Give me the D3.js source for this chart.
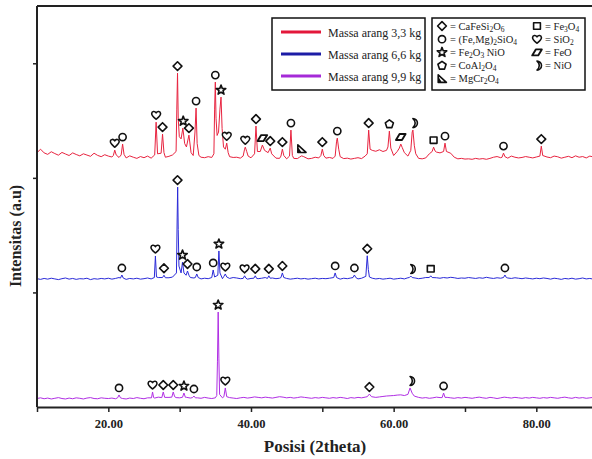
<!DOCTYPE html>
<html>
<head>
<meta charset="utf-8">
<script src="https://cdn.jsdelivr.net/npm/d3@7"></script>
<style>
body { margin: 0; background: #fff; }
svg { display: block; }
</style>
</head>
<body>
<script>
var W = 592, H = 459;

var thetaTicks = [10, 20, 30, 40, 50, 60, 70, 80, 90];
var thetaLabels = [20, 40, 60, 80];
var intensityTicks = [1000, 2000, 3000];
var seriesNames = ["Massa arang 3,3 kg", "Massa arang 6,6 kg", "Massa arang 9,9 kg"];
var seriesOffsets = [2100, 1050, 0];

// baseline counts, one value every 0.5 deg from 10 to 90
var redBase = [120,150,118,105,128,112,98,122,108,95,118,104,92,110,99,88,115,96,85,102,90,
  82,95,78,88,74,92,80,70,86,76,90,72,84,78,95,80,88,100,92,
  250,300,170,130,95,150,80,76,85,78,120,200,150,110,85,78,80,72,80,68,75,
  82,90,88,84,80,76,72,70,78,66,74,70,68,75,72,66,70,80,74,68,
  72,78,70,66,74,68,72,64,70,76,68,90,120,140,132,145,130,140,150,95,
  130,150,120,90,130,100,70,66,74,110,130,125,118,130,120,115,80,66,70,64,
  66,62,70,64,68,62,70,80,86,76,84,72,90,80,74,78,86,80,74,82,
  88,95,82,76,90,84,72,80,88,76,92,80,86,74,90,82,78,88,76,84];
var redPeaks = [[20.7,95],[20.9,142],[21.1,100],[21.8,100],[22.0,195],[22.2,105],
  [26.5,100],[26.7,386],[26.9,110],[27.4,115],[27.6,282],[27.8,120],
  [29.5,130],[29.6,500],[29.7,814],[29.8,420],[29.95,260],
  [30.2,240],[30.45,334],[30.7,200],[30.95,170],[31.3,273],[31.6,120],
  [31.9,95],[32.15,300],[32.3,509],[32.45,200],[32.7,95],
  [34.8,110],[34.9,500],[35.0,736],[35.1,420],[35.25,270],
  [35.45,300],[35.65,500],[35.8,605],[35.95,330],[36.15,170],
  [36.4,150],[36.6,203],[36.8,120],[38.9,90],[39.1,150],[39.2,168],[39.4,130],[39.6,90],
  [40.5,110],[40.7,352],[40.9,130],[41.3,130],[41.6,186],[41.9,140],
  [42.4,120],[42.7,160],[42.9,110],[44.2,90],[44.4,151],[44.6,95],
  [45.4,90],[45.6,317],[45.8,95],[46.8,80],[47.1,92],[47.4,85],
  [49.8,95],[50.0,151],[50.2,95],[51.8,90],[52.0,220],[52.1,247],[52.3,150],[52.5,85],
  [56.3,110],[56.5,317],[56.7,150],[59.2,170],[59.4,308],[59.6,160],
  [60.8,160],[61.0,195],[61.2,165],[62.4,140],[62.6,300],[62.7,317],[62.9,180],[63.1,110],
  [65.4,130],[65.6,168],[65.8,135],[67.0,130],[67.2,203],[67.4,130],
  [75.2,80],[75.4,116],[75.6,85],[80.5,90],[80.7,177],[80.9,95]];
var redMarks = [[20.9,"h"],[22.0,"o"],[26.7,"h"],[27.6,"d"],[29.7,"d"],[30.5,"s"],[31.3,"d"],
  [32.3,"o"],[35.0,"o"],[35.8,"s"],[36.6,"h"],[39.2,"h"],[40.7,"d"],[41.6,"f"],[42.7,"d"],
  [44.4,"d"],[45.6,"o"],[47.1,"t"],[50.0,"d"],[52.1,"o"],[56.5,"d"],[59.4,"p"],[61.0,"f"],
  [62.7,"m"],[65.6,"q"],[67.2,"o"],[75.4,"o"],[80.7,"d"]];

var blueBase = [70,64,72,66,74,68,62,70,76,66,72,64,70,68,74,62,70,66,72,68,74,
  66,72,80,70,64,72,68,74,66,70,76,68,72,80,74,70,78,84,90,
  100,95,88,80,76,72,68,74,70,78,85,74,70,66,72,80,76,70,74,66,72,
  78,70,74,80,84,76,70,74,68,72,66,70,74,68,72,66,70,74,68,72,
  70,74,78,72,66,74,70,76,72,68,74,80,70,74,68,72,66,70,74,66,
  70,74,68,78,72,76,70,74,80,76,82,78,74,80,76,82,78,72,76,74,
  80,76,72,78,74,82,76,72,78,74,80,76,72,78,74,70,76,72,68,74,
  70,76,72,66,74,70,64,72,68,74,66,70,76,68,72,66,74,70,68,72];
var bluePeaks = [[21.7,75],[21.9,102],[22.1,75],[26.45,80],[26.6,268],[26.75,85],
  [27.6,80],[27.8,100],[28.0,78],
  [29.55,120],[29.65,600],[29.72,869],[29.8,500],[29.9,180],
  [30.2,120],[30.4,215],[30.6,120],[30.9,100],[31.1,137],[31.3,100],
  [32.2,80],[32.4,111],[32.6,80],[34.5,80],[34.7,146],[34.9,85],
  [35.35,100],[35.5,312],[35.65,120],[36.2,90],[36.4,111],[36.6,85],
  [38.9,72],[39.1,95],[39.3,74],[40.4,74],[40.6,95],[40.8,72],[42.3,72],[42.5,95],[42.7,74],
  [44.2,80],[44.4,120],[44.6,80],[51.6,80],[51.8,120],[52.0,80],[54.3,80],[54.5,102],[54.7,80],
  [56.1,90],[56.2,180],[56.3,270],[56.45,150],[56.6,85],
  [62.2,80],[62.4,93],[62.6,80],[65.0,80],[65.2,95],[65.4,80],[75.4,80],[75.6,102],[75.8,80]];
var blueMarks = [[21.9,"o"],[26.6,"h"],[27.8,"d"],[29.7,"d"],[30.4,"s"],[31.1,"d"],[32.4,"o"],
  [34.7,"o"],[35.5,"s"],[36.4,"h"],[39.1,"h"],[40.6,"d"],[42.5,"d"],[44.4,"d"],[51.8,"o"],
  [54.5,"o"],[56.3,"d"],[62.4,"m"],[65.2,"q"],[75.6,"o"]];

var purpleBase = [74,80,72,78,70,76,82,74,70,78,72,80,76,70,78,82,74,72,80,76,74,
  78,72,80,74,70,78,74,82,76,72,80,74,78,86,76,80,84,78,82,
  80,76,84,78,74,80,76,84,78,74,80,86,80,76,82,78,74,80,84,78,82,
  88,84,80,86,82,78,84,90,86,80,84,78,82,88,84,80,76,82,78,84,
  80,76,82,78,84,80,74,82,78,84,80,86,82,78,84,88,92,96,98,100,
  104,106,100,96,86,80,84,78,82,76,80,86,82,78,84,80,76,82,78,84,
  80,76,82,86,80,76,84,80,74,80,86,82,78,84,80,76,82,78,84,80,
  76,82,78,84,80,76,82,86,80,76,84,78,82,76,80,84,78,82,76,80];
var purplePeaks = [[21.3,80],[21.5,105],[21.7,80],[26.05,80],[26.2,131],[26.35,82],
  [27.5,82],[27.7,131],[27.9,84],[28.9,86],[29.1,131],[29.3,90],
  [30.4,85],[30.6,122],[30.8,85],[31.8,82],[32.0,96],[32.2,80],
  [35.2,100],[35.3,400],[35.4,829],[35.5,420],[35.6,110],[36.2,90],[36.4,166],[36.6,90],
  [56.3,90],[56.6,113],[56.9,90],[62.0,110],[62.3,166],[62.6,120],[62.9,95],
  [66.8,82],[67.0,122],[67.2,84]];
var purpleMarks = [[21.5,"o"],[26.2,"h"],[27.7,"d"],[29.1,"d"],[30.6,"s"],[32.0,"o"],
  [35.4,"s"],[36.4,"h"],[56.6,"d"],[62.3,"m"],[67.0,"o"]];

var lineColors = ["#e8233f", "#2a2ad8", "#b02ee4"];
var legendColors = ["#e3173a", "#1c1ca6", "#a52ad8"];

var mineralLegend = [["d","= CaFeSi_2O_6"],["o","= (Fe,Mg)_2SiO_4"],["s","= Fe_2O_3 NiO"],
  ["p","= CoAl_2O_4"],["t","= MgCr_2O_4"],["q","= Fe_3O_4"],["h","= SiO_2"],["f","= FeO"],["m","= NiO"]];

var margin = {left: 37, top: 6, bottom: 407};

var x = d3.scaleLinear().domain([10, 90]).range([margin.left, margin.left + 80 * 7.133]);
var y = d3.scaleLinear().domain([0, 3500]).range([margin.bottom, margin.top]);

var svg = d3.select("body").append("svg")
	.attr("width", W)
	.attr("height", H)
	.style("font-family", "'Liberation Serif', 'Times New Roman', serif");

function buildSeries(base, peaks){
	var pts = base.map(function(v, i){ return [10 + i * 0.5, v]; })
		.filter(function(p){
			return !peaks.some(function(q){ return Math.abs(q[0] - p[0]) < 0.12; });
		});
	return pts.concat(peaks).sort(function(a, b){ return a[0] - b[0]; });
}

var series = [
	{data: buildSeries(redBase, redPeaks), marks: redMarks},
	{data: buildSeries(blueBase, bluePeaks), marks: blueMarks},
	{data: buildSeries(purpleBase, purplePeaks), marks: purpleMarks}
];

function starPath(ro, ri){
	var s = "";
	for (var k = 0; k < 10; k++){
		var r = k % 2 ? ri : ro;
		var a = -Math.PI / 2 + k * Math.PI / 5;
		s += (k ? "L" : "M") + (r * Math.cos(a)).toFixed(2) + "," + (r * Math.sin(a)).toFixed(2);
	}
	return s + "Z";
}
function pentPath(r){
	var s = "";
	for (var k = 0; k < 5; k++){
		var a = -Math.PI / 2 + k * 2 * Math.PI / 5;
		s += (k ? "L" : "M") + (r * Math.cos(a)).toFixed(2) + "," + (r * Math.sin(a)).toFixed(2);
	}
	return s + "Z";
}

function symPath(t){
	switch (t){
		case "d": return "M0,-4.4L4.4,0L0,4.4L-4.4,0Z";
		case "o": return "M3.6,0A3.6,3.6 0 1,1 -3.6,0A3.6,3.6 0 1,1 3.6,0Z";
		case "s": return starPath(5, 2.1);
		case "p": return pentPath(4.3);
		case "q": return "M-3.4,-3.2H3.4V3.2H-3.4Z";
		case "t": return "M-3.8,-4L-3.8,3.6L4.4,3.6Z M-3.8,-0.8L-1,3.6 M-3.8,1.8L-2.3,3.6";
		case "h": return "M0,4C-2,2.4 -4.8,0.4 -4.4,-1.9C-4.1,-3.9 -1.4,-4.6 0,-2.3C1.4,-4.6 4.1,-3.9 4.4,-1.9C4.8,0.4 2,2.4 0,4Z";
		case "f": return "M-1.2,-3H4.8L1.2,3H-4.8Z";
		case "m": return "M0,-4.5A4.5,4.5 0 0,1 0,4.5A5.6,5.6 0 0,0 0,-4.5Z";
	}
}

function drawSym(g, t, cx, cy){
	g.append("path")
		.attr("d", symPath(t))
		.attr("transform", "translate(" + cx + "," + cy + ")")
		.attr("fill", "#fff")
		.attr("stroke", "#111")
		.attr("stroke-width", t == "f" ? 1.9 : 1.6)
		.attr("stroke-linejoin", "round");
}

// lines
var line = d3.line();
series.forEach(function(s, i){
	var off = seriesOffsets[i];
	svg.append("path")
		.datum(s.data)
		.attr("fill", "none")
		.attr("stroke", lineColors[i])
		.attr("stroke-width", 1)
		.attr("d", line.x(function(d){ return x(d[0]); }).y(function(d){ return y(d[1] + off); }));
});

// phase markers above peaks
series.forEach(function(s, i){
	var off = seriesOffsets[i];
	var g = svg.append("g");
	s.marks.forEach(function(m){
		var top = d3.max(s.data.filter(function(d){ return Math.abs(d[0] - m[0]) <= 0.25; }), function(d){ return d[1]; });
		drawSym(g, m[1], x(m[0]), y(top + off) - 7);
	});
});

// frame
svg.append("line").attr("x1", margin.left).attr("x2", W).attr("y1", margin.top).attr("y2", margin.top)
	.attr("stroke", "#222").attr("stroke-width", 2);

var xAxis = svg.append("g")
	.attr("transform", "translate(0," + margin.bottom + ")")
	.call(d3.axisBottom(x).tickValues(thetaTicks).tickSize(5).tickSizeOuter(0)
		.tickFormat(function(d){ return d.toFixed(2); }));
xAxis.select(".domain").attr("stroke", "#222").attr("stroke-width", 2);
xAxis.selectAll(".tick line").attr("stroke", "#222").attr("stroke-width", 1.5);
xAxis.selectAll(".tick text")
	.filter(function(d){ return thetaLabels.indexOf(d) < 0; }).remove();
xAxis.selectAll(".tick text").attr("font-family", "'Liberation Serif', serif")
	.attr("font-size", 12.5).attr("font-weight", "bold").attr("fill", "#222").attr("dy", "1.05em");

var yAxis = svg.append("g")
	.attr("transform", "translate(" + margin.left + ",0)")
	.call(d3.axisLeft(y).tickValues(intensityTicks).tickSize(4).tickSizeOuter(0));
yAxis.selectAll(".tick text").remove();
yAxis.select(".domain").attr("stroke", "#222").attr("stroke-width", 2)
	.attr("d", "M0," + margin.top + "V" + margin.bottom);
yAxis.selectAll(".tick line").attr("stroke", "#222").attr("stroke-width", 1.5);

svg.append("text")
	.attr("x", 315).attr("y", 452)
	.attr("text-anchor", "middle")
	.attr("font-size", 17).attr("font-weight", "bold").attr("fill", "#222")
	.text("Posisi (2theta)");

svg.append("text")
	.attr("transform", "translate(21,236) rotate(-90)")
	.attr("text-anchor", "middle")
	.attr("font-size", 16).attr("font-weight", "bold").attr("fill", "#222")
	.text("Intensitas (a.u)");

// legend 1
svg.append("rect").attr("x", 272).attr("y", 18).attr("width", 153).attr("height", 72)
	.attr("fill", "#fff").attr("stroke", "#111").attr("stroke-width", 1.5);
seriesNames.forEach(function(n, i){
	var ly = 32 + i * 22;
	svg.append("line").attr("x1", 281).attr("x2", 321).attr("y1", ly).attr("y2", ly)
		.attr("stroke", legendColors[i]).attr("stroke-width", 3);
	svg.append("text").attr("x", 328).attr("y", ly + 4.5)
		.attr("font-size", 12).attr("fill", "#222").text(n);
});

// legend 2
svg.append("rect").attr("x", 432).attr("y", 18).attr("width", 153).attr("height", 72)
	.attr("fill", "#fff").attr("stroke", "#111").attr("stroke-width", 1.5);
var lg = svg.append("g");
mineralLegend.forEach(function(m, i){
	var col = i < 5 ? 0 : 1;
	var row = col ? i - 5 : i;
	var sx = col ? 537 : 442;
	var sy = 26 + row * 13.2;
	drawSym(lg, m[0], sx, sy);
	var t = lg.append("text").attr("x", sx + 8).attr("y", sy + 3.5)
		.attr("font-size", 10.5).attr("fill", "#222");
	var shifted = false;
	m[1].split(/(_\d)/).forEach(function(part){
		if (!part) return;
		if (part[0] == "_"){
			t.append("tspan").attr("font-size", 7.5).attr("dy", shifted ? 0 : 2).text(part.slice(1));
			shifted = true;
		} else {
			t.append("tspan").attr("dy", shifted ? -2 : 0).text(part);
			shifted = false;
		}
	});
});
</script>
</body>
</html>
